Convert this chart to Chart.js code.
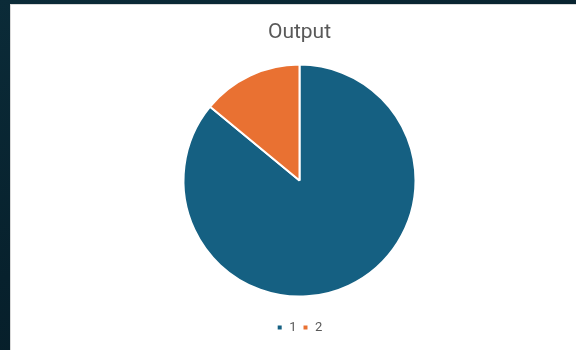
<!DOCTYPE html>
<html lang="en">
<head>
    <meta charset="UTF-8">
    <title>Output</title>
    <script src="https://cdn.jsdelivr.net/npm/chart.js"></script>
    <style>
        body { margin: 0; width: 576px; height: 350px; overflow: hidden;
               background: linear-gradient(160deg, #0b2b38 0%, #07212d 50%, #061a24 100%); }
        #box { position: absolute; left: 10px; top: 4px; width: 578px; height: 346px;
               background: #fff; border-left: 1px solid #d9d9d9; border-top: 1px solid #d9d9d9; box-sizing: border-box; }
        canvas { display: block; }
    </style>
</head>
<body>
    <div id="box"><canvas id="pie" width="577" height="345"></canvas></div>
    <script>
        const labels = ['1', '2'];
        const values = [86, 14];
        const colors = ['#156082', '#E97132'];

        new Chart(document.getElementById('pie'), {
            type: 'pie',
            data: {
                labels: labels,
                datasets: [{
                    data: values,
                    backgroundColor: colors,
                    borderColor: '#ffffff',
                    borderWidth: 2,
                    radius: 116
                }]
            },
            options: {
                responsive: false,
                animation: false,
                layout: { padding: { bottom: 6 } },
                plugins: {
                    title: {
                        display: true,
                        text: 'Output',
                        color: '#595959',
                        font: { family: 'Roboto', size: 21, weight: 'normal' },
                        padding: { top: 15, bottom: 1 }
                    },
                    legend: {
                        position: 'bottom',
                        labels: {
                            color: '#595959',
                            font: { family: 'Roboto', size: 13 },
                            boxWidth: 6,
                            boxHeight: 6,
                            padding: 6
                        }
                    },
                    tooltip: { enabled: false }
                }
            }
        });
    </script>
</body>
</html>
